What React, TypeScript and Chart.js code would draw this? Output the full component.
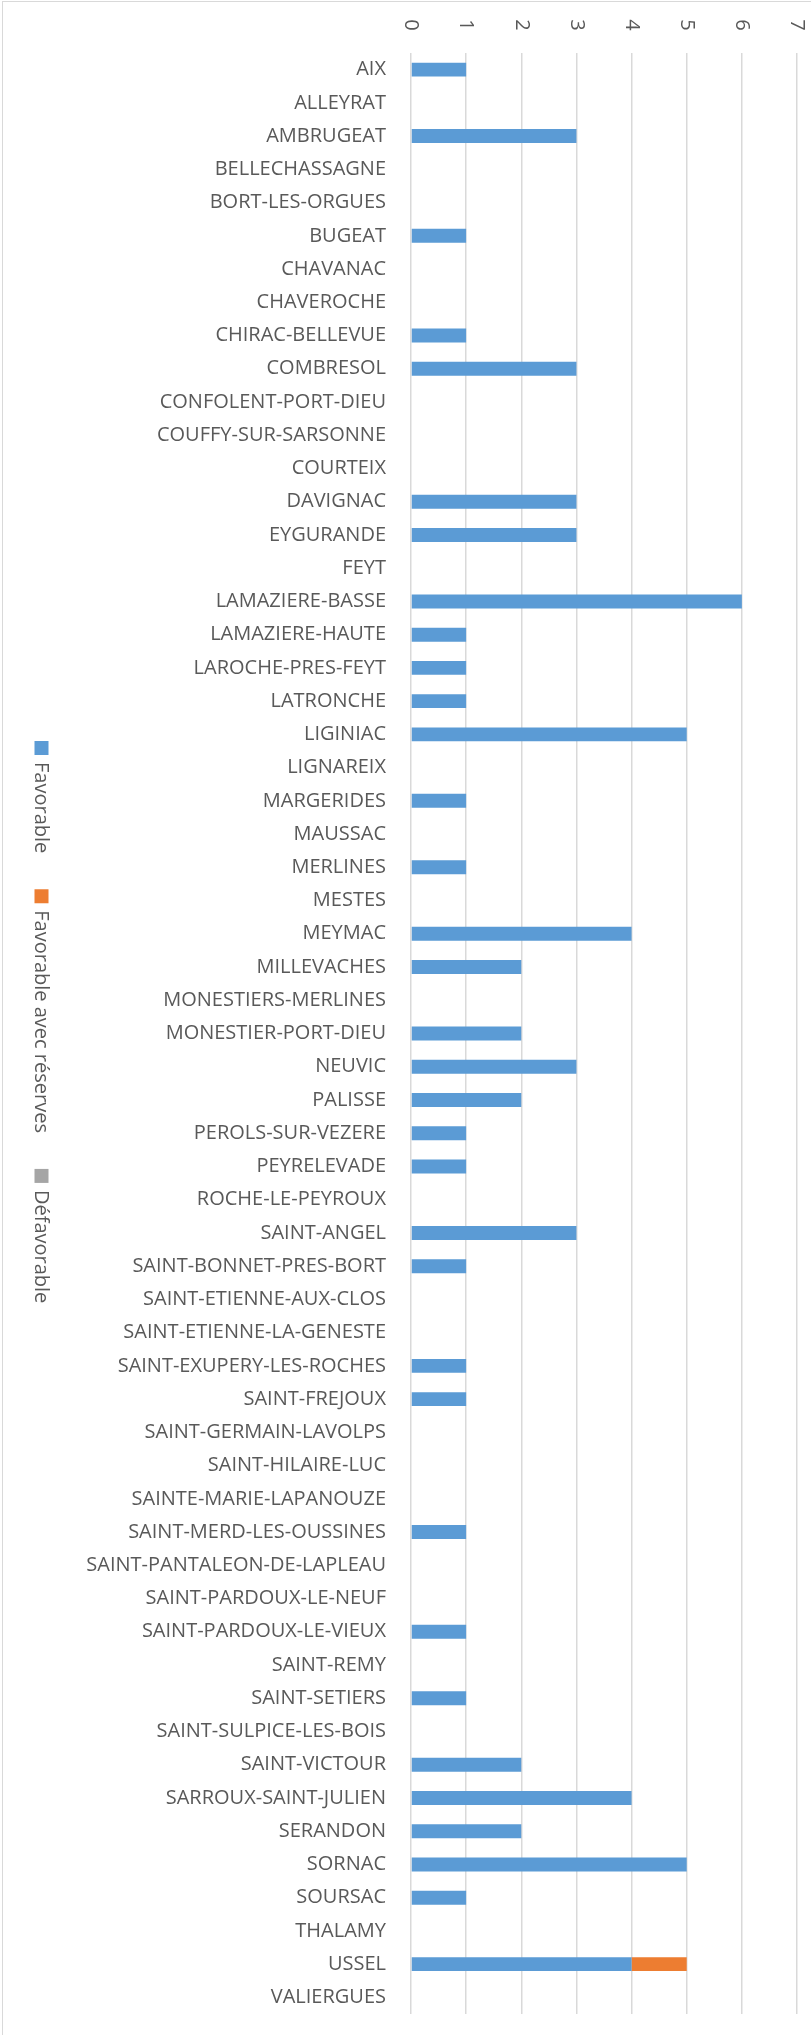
import React, { useEffect, useRef } from "react";
import { Chart, registerables } from "chart.js";

Chart.register(...registerables);

const communes: string[] = [
  "AIX", "ALLEYRAT", "AMBRUGEAT", "BELLECHASSAGNE", "BORT-LES-ORGUES", "BUGEAT",
  "CHAVANAC", "CHAVEROCHE", "CHIRAC-BELLEVUE", "COMBRESOL", "CONFOLENT-PORT-DIEU",
  "COUFFY-SUR-SARSONNE", "COURTEIX", "DAVIGNAC", "EYGURANDE", "FEYT",
  "LAMAZIERE-BASSE", "LAMAZIERE-HAUTE", "LAROCHE-PRES-FEYT", "LATRONCHE", "LIGINIAC",
  "LIGNAREIX", "MARGERIDES", "MAUSSAC", "MERLINES", "MESTES", "MEYMAC", "MILLEVACHES",
  "MONESTIERS-MERLINES", "MONESTIER-PORT-DIEU", "NEUVIC", "PALISSE", "PEROLS-SUR-VEZERE",
  "PEYRELEVADE", "ROCHE-LE-PEYROUX", "SAINT-ANGEL", "SAINT-BONNET-PRES-BORT",
  "SAINT-ETIENNE-AUX-CLOS", "SAINT-ETIENNE-LA-GENESTE", "SAINT-EXUPERY-LES-ROCHES",
  "SAINT-FREJOUX", "SAINT-GERMAIN-LAVOLPS", "SAINT-HILAIRE-LUC", "SAINTE-MARIE-LAPANOUZE",
  "SAINT-MERD-LES-OUSSINES", "SAINT-PANTALEON-DE-LAPLEAU", "SAINT-PARDOUX-LE-NEUF",
  "SAINT-PARDOUX-LE-VIEUX", "SAINT-REMY", "SAINT-SETIERS", "SAINT-SULPICE-LES-BOIS",
  "SAINT-VICTOUR", "SARROUX-SAINT-JULIEN", "SERANDON", "SORNAC", "SOURSAC", "THALAMY",
  "USSEL", "VALIERGUES",
];

const favorable: number[] = [
  1, 0, 3, 0, 0, 1,
  0, 0, 1, 3, 0,
  0, 0, 3, 3, 0,
  6, 1, 1, 1, 5,
  0, 1, 0, 1, 0, 4, 2,
  0, 2, 3, 2, 1,
  1, 0, 3, 1,
  0, 0, 1,
  1, 0, 0, 0,
  1, 0, 0,
  1, 0, 1, 0,
  2, 4, 2, 5, 1, 0,
  4, 0,
];

const favorableAvecReserves: number[] = communes.map((c) => (c === "USSEL" ? 1 : 0));
const defavorable: number[] = communes.map(() => 0);

const seriesNames: string[] = ["Favorable", "Favorable avec réserves", "Défavorable"];
const seriesColors: string[] = ["#5B9BD5", "#ED7D31", "#A5A5A5"];
const xTicks: number[] = [0, 1, 2, 3, 4, 5, 6, 7];

const FONT = "Open Sans";
const TEXT_COLOR = "#595959";

const decorPlugin = {
  id: "decor",
  beforeDraw(chart: any) {
    const ctx = chart.ctx;
    ctx.save();
    ctx.strokeStyle = "#d9d9d9";
    ctx.lineWidth = 1;
    ctx.strokeRect(2.5, 1.5, chart.width + 20, chart.height + 20);
    ctx.restore();
  },
  afterDraw(chart: any) {
    const ctx = chart.ctx;
    const xScale = chart.scales.x;
    ctx.save();
    ctx.font = `20px "${FONT}"`;
    ctx.fillStyle = TEXT_COLOR;
    // rotated value-axis tick labels (clockwise)
    xTicks.forEach((v) => {
      const px = xScale.getPixelForValue(v);
      ctx.save();
      ctx.translate(px, 25);
      ctx.rotate(Math.PI / 2);
      ctx.textAlign = "center";
      ctx.textBaseline = "middle";
      ctx.fillText(String(v), 0, 0);
      ctx.restore();
    });
    // rotated legend
    ctx.save();
    ctx.translate(34.5, 741);
    ctx.rotate(Math.PI / 2);
    ctx.textAlign = "left";
    ctx.textBaseline = "alphabetic";
    let pos = 0;
    seriesNames.forEach((name, i) => {
      ctx.fillStyle = seriesColors[i];
      ctx.fillRect(pos, -14, 14, 14);
      ctx.fillStyle = TEXT_COLOR;
      ctx.fillText(name, pos + 21, 0);
      pos += 21 + ctx.measureText(name).width + 36;
    });
    ctx.restore();
    ctx.restore();
  },
};

export default function App() {
  const ref = useRef<HTMLCanvasElement | null>(null);

  useEffect(() => {
    if (!ref.current) return;
    const chart = new Chart(ref.current, {
      type: "bar",
      data: {
        labels: communes,
        datasets: [
          { label: seriesNames[0], data: favorable, backgroundColor: seriesColors[0] },
          { label: seriesNames[1], data: favorableAvecReserves, backgroundColor: seriesColors[1] },
          { label: seriesNames[2], data: defavorable, backgroundColor: seriesColors[2] },
        ],
      },
      options: {
        indexAxis: "y",
        responsive: false,
        animation: false,
        devicePixelRatio: 1,
        datasets: {
          bar: { barPercentage: 0.42, categoryPercentage: 1, borderWidth: 0 },
        },
        layout: { padding: { left: 0, right: 14, top: 0, bottom: 21 } },
        plugins: {
          legend: { display: false },
          tooltip: { enabled: false },
        },
        scales: {
          x: {
            position: "top",
            stacked: true,
            min: 0,
            max: 7,
            ticks: { display: false, stepSize: 1 },
            grid: { color: "#d9d9d9", lineWidth: 1.5, drawTicks: false },
            border: { display: false },
            afterFit: (s: any) => {
              s.height = 53;
              s.paddingLeft = 0;
              s.paddingRight = 0;
            },
          },
          y: {
            stacked: true,
            grid: { display: false },
            border: { display: false },
            ticks: {
              autoSkip: false,
              padding: 17,
              color: TEXT_COLOR,
              font: { family: FONT, size: 20 },
            },
            afterFit: (s: any) => {
              s.width = 411;
              s.paddingTop = 0;
              s.paddingBottom = 0;
            },
          },
        },
      },
      plugins: [decorPlugin],
    } as any);
    return () => chart.destroy();
  }, []);

  return (
    <div style={{ position: "absolute", left: 0, top: 0, width: 811, height: 2035, background: "#fff" }}>
      <canvas ref={ref} width={811} height={2035} style={{ display: "block" }} />
    </div>
  );
}
